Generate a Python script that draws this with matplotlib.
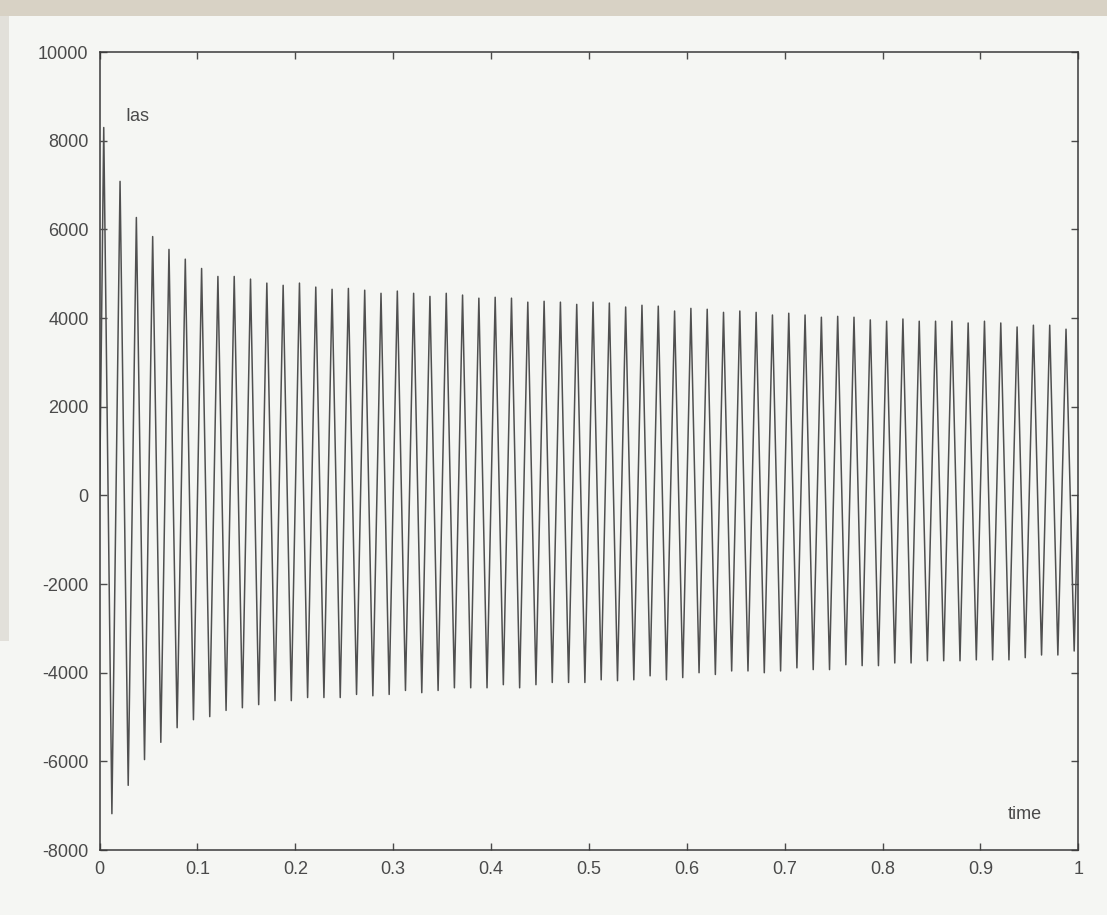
import numpy as np
import matplotlib.pyplot as plt
from matplotlib.patches import Rectangle


###############################
# Data
###############################
freq = 60.0            # cycles per second, 60 peaks between 0 and 1
first_peak_t = 0.0042  # time of the first positive peak

# positive peak of each cycle
pos_peaks = [8300, 7085, 6270, 5840, 5550, 5330, 5120, 4940, 4940, 4880,
             4790, 4740, 4790, 4700, 4650, 4670, 4630, 4560, 4610, 4560,
             4490, 4560, 4520, 4450, 4470, 4450, 4360, 4380, 4360, 4310,
             4360, 4340, 4250, 4290, 4270, 4160, 4220, 4200, 4130, 4160,
             4130, 4070, 4110, 4070, 4020, 4040, 4020, 3960, 3930, 3980,
             3930, 3930, 3930, 3890, 3930, 3890, 3800, 3840, 3840, 3750]

# negative peak of each cycle
neg_peaks = [-7180, -6540, -5960, -5570, -5240, -5060, -4990, -4850, -4790, -4720,
             -4630, -4630, -4560, -4560, -4560, -4490, -4520, -4490, -4400, -4450,
             -4400, -4340, -4340, -4340, -4270, -4340, -4270, -4220, -4220, -4220,
             -4160, -4180, -4160, -4070, -4160, -4110, -4000, -4040, -3960, -3960,
             -4000, -3960, -3890, -3930, -3930, -3820, -3840, -3840, -3780, -3780,
             -3730, -3730, -3730, -3710, -3710, -3710, -3660, -3600, -3600, -3510]

start_value = 0.0
end_value = 0.0

x_ticks = [0, 0.1, 0.2, 0.3, 0.4, 0.5, 0.6, 0.7, 0.8, 0.9, 1]
x_labels = ['0', '0.1', '0.2', '0.3', '0.4', '0.5', '0.6', '0.7', '0.8', '0.9', '1']
y_ticks = [-8000, -6000, -4000, -2000, 0, 2000, 4000, 6000, 8000, 10000]
y_labels = ['-8000', '-6000', '-4000', '-2000', '0', '2000', '4000', '6000', '8000', '10000']


###############################
# Build the trace (peak, trough, peak, ...)
###############################
t = [0.0]
v = [start_value]
for k, (hi, lo) in enumerate(zip(pos_peaks, neg_peaks)):
    t.append(first_peak_t + k / freq)
    v.append(hi)
    t.append(first_peak_t + (k + 0.5) / freq)
    v.append(lo)
t.append(1.0)
v.append(end_value)


###############################
# Plot
###############################
plt.rcParams['font.family'] = ['Liberation Sans', 'DejaVu Sans']
paper = '#f5f6f3'
ink = '#4a4a4a'

fig = plt.figure(figsize=(11.07, 9.15), dpi=100, facecolor=paper)
# scanner edge at the top and left
fig.patches.append(Rectangle((0, 0.983), 1, 0.017, transform=fig.transFigure,
                             facecolor='#d8d2c5', edgecolor='none', zorder=0))
fig.patches.append(Rectangle((0, 0.3), 0.008, 0.683, transform=fig.transFigure,
                             facecolor='#e2e0da', edgecolor='none', zorder=0))

ax = fig.add_axes([0.090, 0.071, 0.884, 0.872])
ax.set_facecolor(paper)
ax.plot(t, v, color='#505050', linewidth=1.1)

ax.set_xlim(0, 1)
ax.set_ylim(-8000, 10000)
ax.set_xticks(x_ticks)
ax.set_xticklabels(x_labels)
ax.set_yticks(y_ticks)
ax.set_yticklabels(y_labels)
ax.tick_params(direction='in', length=5, width=1, colors=ink, labelsize=13,
               top=True, right=True, pad=8)
for s in ax.spines.values():
    s.set_color('#3a3a3a')
    s.set_linewidth(1.1)

ax.text(0.026, 8450, 'Ias', fontsize=13, color=ink)
ax.text(0.928, -7300, 'time', fontsize=13, color=ink)

fig.savefig('out.png', dpi=100, facecolor=fig.get_facecolor())
